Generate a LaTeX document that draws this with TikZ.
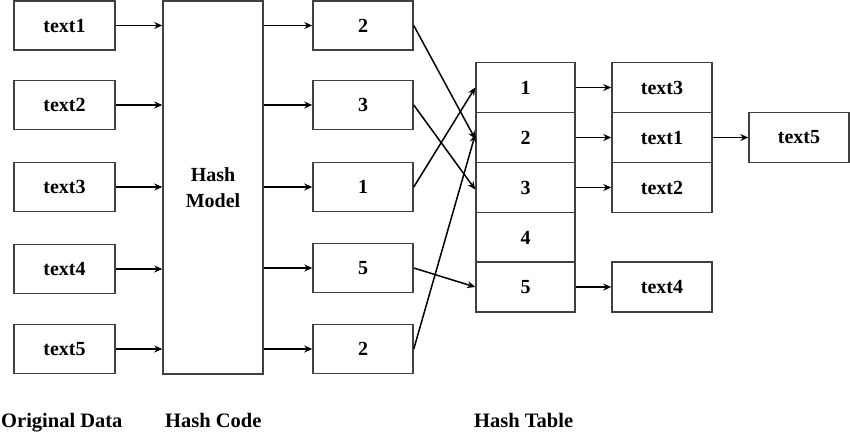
\documentclass[tikz,border=0pt]{standalone}
\usepackage{fontspec}
\setmainfont{Liberation Serif}
\usetikzlibrary{arrows.meta}
\begin{document}
\begin{tikzpicture}[x=1pt,y=-1pt,
  box/.style={draw=black!75,line width=1.5pt,rectangle,minimum width=101pt,minimum height=49pt,inner sep=0pt,
    font=\fontsize{20}{22}\selectfont\bfseries},
  row/.style={box,minimum width=99pt,minimum height=50pt},
  conn/.style={line width=1.5pt,-{Stealth[length=8pt,width=7pt]}},
  lab/.style={anchor=base west,inner sep=0pt,font=\fontsize{20.5}{22}\selectfont\bfseries}]
\useasboundingbox (0,0) rectangle (850,431);
% original data
\node[box] (t1) at (64.5,25.5) {text1};
\node[box] (t2) at (64.5,105) {text2};
\node[box] (t3) at (64.5,187) {text3};
\node[box] (t4) at (64.5,269) {text4};
\node[box] (t5) at (64.5,349) {text5};
% model
\node[box,minimum width=100pt,minimum height=373pt,align=center,font=\fontsize{20}{26}\selectfont\bfseries] (m) at (213,187.5) {Hash\\Model};
% hash codes
\node[box,minimum width=100pt] (c1) at (363,25.5) {2};
\node[box,minimum width=100pt] (c2) at (363,105) {3};
\node[box,minimum width=100pt] (c3) at (363,187) {1};
\node[box,minimum width=100pt] (c4) at (363,268) {5};
\node[box,minimum width=100pt] (c5) at (363,349) {2};
% hash table
\node[row] (r1) at (525.5,87.5) {1};
\node[row] (r2) at (525.5,137.5) {2};
\node[row] (r3) at (525.5,187.5) {3};
\node[row] (r4) at (525.5,237.5) {4};
\node[row] (r5) at (525.5,287) {5};
% buckets
\node[box,minimum width=100pt,minimum height=50pt] (o3) at (662,87.5) {text3};
\node[box,minimum width=100pt,minimum height=50pt] (o1) at (662,137.5) {text1};
\node[box,minimum width=100pt,minimum height=50pt] (o2) at (662,187.5) {text2};
\node[box,minimum width=100pt,minimum height=50pt] (o4) at (662,287) {text4};
\node[box,minimum width=100pt,minimum height=50pt] (o5) at (799,137.5) {text5};
% arrows into model
\foreach \t in {t1,t2,t3,t4,t5}
  \draw[conn] (\t.east) -- (\t.east -| m.west);
% arrows out of model
\foreach \c in {c1,c2,c3,c4,c5}
  \draw[conn] (\c.west -| m.east) -- (\c.west);
% codes to table
\draw[conn] (c1.east) -- ([yshift=-1.5pt]r2.west);
\draw[conn] (c2.east) -- ([yshift=-2pt]r3.west);
\draw[conn] (c3.east) -- (r1.west);
\draw[conn] (c4.east) -- (r5.west);
\draw[conn] (c5.east) -- ([yshift=3pt]r2.west);
% table to buckets
\draw[conn] (r1.east) -- (o3.west);
\draw[conn] (r2.east) -- (o1.west);
\draw[conn] (r3.east) -- (o2.west);
\draw[conn] (r5.east) -- (o4.west);
\draw[conn] (o1.east) -- (o5.west);
% labels
\node[lab] (l1) at (1,427) {Original Data};
\node[lab] (l2) at (165,427) {Hash Code};
\node[lab] (l3) at (474,427) {Hash Table};
\end{tikzpicture}
\end{document}
